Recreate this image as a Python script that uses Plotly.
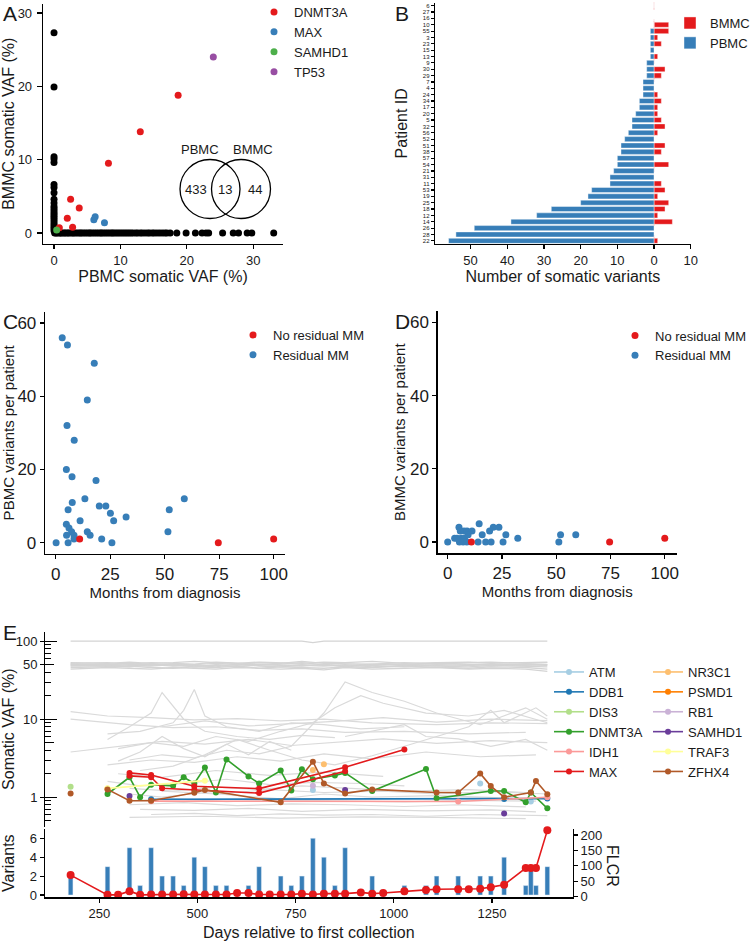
import plotly.graph_objects as go

W, H = 750, 942


def fx(p):
    return p / W


def fy(p):
    return 1 - p / H


FONT = "Liberation Sans, Arial, Helvetica, sans-serif"
TXT = "#1a1a1a"
RED = "#E41A1C"
BLUE = "#377EB8"
GREEN = "#4DAF4A"
PURPLE = "#984EA3"

# ---------------- Panel A: PBMC vs BMMC VAF ----------------
a_pbmc_only_vaf = [0.1, 0.3, 0.5, 0.8, 1.0, 1.2, 1.5, 1.7, 2.0, 2.2, 2.5, 2.8, 3.0, 3.3, 3.6, 3.9,
                   4.1, 4.4, 4.7, 5.0, 5.3, 5.5, 5.8, 6.1, 6.4, 6.7, 7.0, 7.2, 7.5, 7.8, 8.1, 8.4,
                   8.7, 8.9, 9.2, 9.5, 9.8, 10.1, 10.4, 10.7, 11.0, 11.3, 11.6, 11.9, 12.3, 12.6,
                   13.0, 13.3, 13.7, 14.1, 14.4, 14.8, 15.1, 15.5, 15.9, 16.3, 16.7, 17.0, 17.5,
                   18.5, 19.9, 21.3, 22.3, 22.9, 23.3, 25.4, 27.0, 27.8, 29.1, 29.8, 33.1]
a_bmmc_only_vaf = [27.3, 19.9, 10.4, 10.1, 9.6, 6.6, 6.2, 5.5, 4.6, 4.1, 3.6, 3.3, 3.0, 2.7,
                   2.4, 2.1, 1.8, 1.5, 1.2, 0.9, 0.6, 0.3]
a_shared_gene = ["DNMT3A"] * 8 + ["MAX"] * 3 + ["SAMHD1", "TP53"]
a_shared_pbmc = [8.2, 13.0, 18.7, 2.5, 3.8, 2.0, 2.8, 0.8, 6.0, 6.2, 7.6, 0.4, 24.0]
a_shared_bmmc = [9.5, 13.8, 18.8, 4.6, 3.4, 2.0, 0.8, 0.7, 1.8, 2.2, 1.4, 0.4, 24.0]
a_genes = ["DNMT3A", "MAX", "SAMHD1", "TP53"]
a_gene_colors = [RED, BLUE, GREEN, PURPLE]
venn_sets = ["PBMC", "BMMC"]
venn_counts = [433, 13, 44]

# ---------------- Panel B: variants per patient ----------------
b_patient_ids = ["6", "27", "16", "10", "55", "3", "23", "15", "13", "9", "30", "29", "7", "4",
                 "24", "34", "17", "20", "5", "32", "56", "52", "51", "38", "57", "54", "21",
                 "31", "11", "53", "19", "25", "18", "12", "14", "26", "28", "22"]
b_pbmc_counts = [0, 0, 0, 0, 1, 1, 1, 1, 1, 2, 2, 2, 3, 3, 3, 4, 4, 5, 6, 6, 7, 8, 9, 9, 10, 10,
                 11, 12, 12, 17, 18, 20, 28, 32, 39, 49, 54, 56]
b_bmmc_counts = [0, 0, 0, 4, 4, 1, 2, 0, 1, 0, 3, 2, 0, 0, 1, 2, 1, 1, 2, 3, 1, 0, 3, 2, 0, 4,
                 0, 0, 2, 3, 1, 4, 3, 1, 5, 0, 0, 1]
b_tick_vals = [-50, -40, -30, -20, -10, 0, 10]
b_tick_text = ["50", "40", "30", "20", "10", "0", "10"]

# ---------------- Panel C: PBMC variants vs months ----------------
c_months_res = [3.0, 5.4, 17.7, 14.5, 5.2, 8.5, 4.9, 7.5, 18.5, 13.4, 59.0, 7.6, 20.0, 23.0, 5.7,
                52.1, 25.1, 32.3, 11.2, 26.6, 4.9, 6.1, 7.3, 14.5, 51.5, 8.4, 5.0, 15.8, 8.4,
                21.1, 0.2, 5.7, 25.8]
c_pbmc_res = [56, 54, 49, 39, 32, 28, 20, 18, 17, 12, 12, 11, 10, 10, 9, 9, 8, 7, 6, 6, 5, 4, 3,
              3, 3, 2, 2, 2, 1, 1, 0, 0, 0]
c_months_nores = [11.0, 74.6, 100.0]
c_pbmc_nores = [1, 0, 1]

# ---------------- Panel D: BMMC variants vs months ----------------
d_months_res = [0.0, 3.2, 5.2, 5.8, 7.5, 8.9, 11.2, 6.2, 7.7, 9.4, 5.4, 7.1, 8.8, 4.3, 14.5, 15.9,
                19.3, 21.0, 23.6, 26.8, 32.3, 14.0, 17.5, 20.0, 25.5, 52.0, 51.2, 59.0]
d_bmmc_res = [0, 1, 4, 3, 3, 3, 3, 1, 1, 2, 0, 0, 0, 1, 5, 2, 3, 4, 4, 2, 1, 0, 0, 0, 0, 2, 0, 2]
d_months_nores = [10.9, 74.6, 100.0]
d_bmmc_nores = [0, 0, 1]

# ---------------- Panel E: longitudinal VAF ----------------
e_band_days = [177, 271, 327, 382, 438, 492, 547, 601, 657, 712, 766, 822, 876, 945, 1027, 1109,
               1191, 1247, 1336, 1391]
e_band_vafs = [
    [51, 50, 52, 49, 51, 50, 52, 50, 49, 51, 53, 50, 49, 51, 50, 52, 51, 50, 49, 50],
    [48, 49, 47, 50, 48, 49, 47, 51, 48, 47, 49, 48, 50, 47, 49, 48, 47, 49, 48, 47],
    [53, 52, 54, 52, 53, 55, 53, 52, 54, 53, 52, 54, 53, 55, 52, 53, 54, 52, 53, 54],
    [50, 51, 49, 48, 50, 47, 50, 49, 51, 50, 48, 51, 47, 50, 51, 49, 50, 51, 50, 49],
    [46, 47, 48, 46, 45, 47, 46, 48, 45, 47, 46, 45, 47, 46, 48, 46, 45, 47, 46, 44],
    [52, 53, 51, 53, 52, 51, 54, 53, 51, 52, 55, 52, 52, 51, 53, 51, 53, 54, 52, 53],
    [49, 48, 50, 51, 49, 48, 49, 47, 50, 49, 50, 49, 48, 49, 47, 50, 49, 48, 51, 50],
    [44, 46, 45, 44, 46, 45, 44, 46, 45, 44, 45, 43, 46, 44, 45, 46, 44, 45, 44, 41],
]
e_hundred_days = [177, 271, 382, 492, 601, 712, 766, 794, 822, 876, 973, 1109, 1247, 1391]
e_hundred_vafs = [100, 100, 100, 100, 100, 100, 100, 96, 100, 100, 100, 100, 100, 100]
e_mid_lines = [
    ([177, 271, 382, 492, 601, 712, 822, 945, 1109, 1247, 1391],
     [12.5, 11, 10.5, 9.8, 10.2, 9.5, 10, 9, 8.5, 9, 8.8]),
    ([177, 327, 438, 547, 657, 766, 876, 1027, 1191, 1336],
     [10, 8.5, 7.8, 8, 7.2, 7.5, 6.8, 7, 6.5, 6.8]),
    ([177, 298, 410, 519, 630, 739, 850, 973, 1109, 1247, 1391],
     [3.8, 4.5, 5.2, 4.8, 5.5, 4.6, 5, 5.6, 4.9, 5.3, 5.0]),
    ([271, 327, 382, 410, 465, 519, 601, 684, 766, 850],
     [5.5, 8, 12, 22, 10, 7, 6, 5.5, 6.2, 5.8]),
    ([271, 354, 438, 465, 492, 519, 574, 657, 739, 822, 916, 1027],
     [6.5, 7, 9, 13, 24, 11, 8, 7, 9, 8.5, 7.5, 8]),
    ([298, 382, 465, 547, 630, 712, 794, 850, 916, 973, 1082, 1191, 1281, 1391],
     [4.2, 5, 4.5, 6, 5.2, 7, 9, 14, 20, 16, 12, 11, 13, 9]),
    ([327, 410, 492, 574, 657, 739, 822, 876, 945, 1027, 1109, 1220, 1336, 1391],
     [3, 3.5, 3.2, 4, 3.6, 4.5, 12, 30, 22, 17, 12, 8.5, 14, 10]),
    ([271, 382, 492, 601, 712, 822, 945, 1082, 1220, 1362],
     [2.6, 3, 2.8, 3.3, 2.9, 3.6, 3.1, 3.8, 3.3, 3.5]),
    ([354, 438, 519, 601, 684, 766, 850, 945, 1027, 1109, 1191, 1247, 1281, 1362, 1391],
     [2.2, 2.5, 3.5, 5.5, 4, 3, 2.6, 3.4, 4.5, 6, 8, 13, 9, 14, 11]),
    ([410, 519, 630, 739, 850, 973, 1109, 1247, 1391],
     [8, 9.5, 8.2, 8.8, 9.4, 10.5, 9.2, 10, 9.6]),
    ([298, 354, 410, 465, 519, 574, 630, 684, 739],
     [2.9, 3.8, 6, 4.2, 3.3, 4.8, 3.5, 5.2, 4]),
    ([876, 945, 1027, 1082, 1164, 1247, 1336, 1391],
     [6, 7, 8.5, 6, 5.6, 4.5, 5.5, 4]),
]
e_low_lines = [
    ([327, 438, 547, 657, 766, 876, 1027, 1191, 1336], [1.3, 1.2, 1.35, 1.25, 1.4, 1.3, 1.2, 1.25, 1.15]),
    ([327, 465, 601, 739, 876, 1027, 1164, 1336], [0.8, 0.85, 0.78, 0.82, 0.8, 0.76, 0.8, 0.75]),
    ([354, 492, 630, 766, 916, 1082, 1247, 1362], [0.7, 0.68, 0.72, 0.66, 0.7, 0.67, 0.69, 0.65]),
    ([327, 410, 519, 601, 712, 822, 945, 1109, 1281], [1.1, 1.0, 1.15, 1.05, 0.95, 1.1, 1.0, 1.05, 0.98]),
    ([382, 492, 601, 712, 822, 945, 1082, 1220, 1391], [0.6, 0.62, 0.58, 0.61, 0.59, 0.6, 0.57, 0.6, 0.58]),
    ([327, 438, 574, 712, 850, 1027, 1191, 1362], [0.9, 0.95, 0.88, 0.92, 0.9, 0.87, 0.91, 0.89]),
    ([271, 354, 465, 574, 684, 794, 916, 1027], [1.6, 1.4, 1.5, 1.7, 1.45, 1.55, 1.5, 1.4]),
    ([410, 547, 684, 822, 973, 1109, 1247, 1391], [1.2, 1.1, 1.25, 1.15, 1.2, 1.1, 1.18, 1.1]),
    ([298, 410, 547, 684, 822, 973], [2.0, 1.8, 2.2, 1.9, 2.1, 1.85]),
    ([327, 519, 712, 916, 1109, 1336], [0.55, 0.57, 0.54, 0.56, 0.55, 0.53]),
]

# highlighted genes: list of segments (days, VAF %)
e_gene_names = ["ATM", "DDB1", "DIS3", "DNMT3A", "IDH1", "MAX",
                "NR3C1", "PSMD1", "RB1", "SAMHD1", "TRAF3", "ZFHX4"]
e_gene_colors = ["#A6CEE3", "#1F78B4", "#B2DF8A", "#33A02C", "#FB9A99", "#E31A1C",
                 "#FDBF6F", "#FF7F00", "#CAB2D6", "#6A3D9A", "#FFFF99", "#B15928"]
e_gene_segments = [
    [([794], [1.24]), ([1220], [1.5]), ([1349], [0.88])],
    [([382, 1281, 1391], [0.94, 0.95, 0.96])],
    [([177], [1.36])],
    [([271, 327, 354, 382, 438, 465, 492, 519, 547, 574, 630, 657, 712, 739, 766, 794, 850, 876,
       945, 1082, 1109, 1247, 1281, 1336, 1349, 1391],
      [1.1, 1.8, 1.0, 1.45, 1.4, 1.8, 1.5, 2.4, 1.15, 3.05, 1.85, 1.5, 2.2, 1.22, 2.28, 1.7, 1.9,
       2.05, 1.2, 2.3, 0.97, 1.2, 1.2, 0.86, 1.15, 0.72])],
    [([382, 1164, 1391], [0.89, 0.88, 1.0])],
    [([327, 382, 492, 657, 876, 1027], [2.05, 1.93, 1.38, 1.29, 2.42, 4.1]),
     ([327, 382, 410, 492, 657, 876], [1.88, 1.8, 1.3, 1.25, 1.13, 2.15])],
    [([794], [2.23]), ([822], [2.64])],
    [([271], [1.28])],
    [([794], [1.4])],
    [([327], [1.04]), ([876], [1.24]), ([1281], [0.62])],
    [([271, 519], [1.3, 1.63])],
    [([177], [1.12]),
     ([271, 327, 382, 492, 519, 712, 794, 822, 876, 945, 1109, 1164, 1220, 1247, 1281, 1349, 1362, 1391],
      [1.26, 0.9, 0.9, 1.14, 1.24, 0.86, 2.85, 1.5, 1.12, 1.26, 1.15, 1.15, 2.02, 1.39, 1.0, 1.15, 1.61, 1.09])],
]

e_bar_days = [177, 271, 327, 354, 382, 410, 438, 465, 492, 519, 547, 574, 630, 657, 712, 739, 766,
              794, 822, 850, 876, 945, 1027, 1082, 1109, 1164, 1220, 1247, 1281, 1336, 1349, 1362, 1391]
e_bar_counts = [2, 3, 5, 1, 5, 2, 2, 1, 4, 3, 1, 1, 1, 3, 2, 1, 2, 6, 4, 1, 5, 2, 1, 1, 2, 2, 2, 2,
                4, 1, 3, 1, 3]
e_flcr_days = [177, 271, 298, 327, 354, 382, 410, 438, 465, 492, 519, 547, 574, 601, 630, 657, 684,
               712, 739, 766, 794, 822, 850, 876, 916, 945, 973, 1027, 1082, 1109, 1164, 1191, 1220,
               1247, 1281, 1336, 1349, 1362, 1391]
e_flcr = [70, 6, 6, 18, 6, 7, 7, 7, 8, 7, 7, 7, 7, 12, 12, 7, 7, 7, 7, 10, 7, 10, 10, 10, 14, 10,
          12, 18, 22, 24, 24, 24, 26, 31, 39, 93, 93, 93, 215]

fig = go.Figure()

# ---- Panel A traces
fig.add_trace(go.Scatter(
    x=a_pbmc_only_vaf + [0.0] * len(a_bmmc_only_vaf),
    y=[0.0] * len(a_pbmc_only_vaf) + a_bmmc_only_vaf,
    mode="markers", marker=dict(color="black", size=7), showlegend=False,
    xaxis="x", yaxis="y", cliponaxis=False, hoverinfo="skip"))
for g, col in zip(a_genes, a_gene_colors):
    xs = [v for v, gg in zip(a_shared_pbmc, a_shared_gene) if gg == g]
    ys = [v for v, gg in zip(a_shared_bmmc, a_shared_gene) if gg == g]
    fig.add_trace(go.Scatter(x=xs, y=ys, mode="markers", name=g,
                             marker=dict(color=col, size=7), xaxis="x", yaxis="y",
                             legend="legend", cliponaxis=False))

# ---- Panel B traces
fig.add_trace(go.Bar(y=b_patient_ids, x=b_bmmc_counts, orientation="h", name="BMMC",
                     marker=dict(color=RED, line=dict(color="rgba(255,255,255,0.7)", width=0.6)),
                     width=0.8, xaxis="x2", yaxis="y2", legend="legend2"))
fig.add_trace(go.Bar(y=b_patient_ids, x=[-v for v in b_pbmc_counts], orientation="h", name="PBMC",
                     marker=dict(color=BLUE, line=dict(color="rgba(255,255,255,0.7)", width=0.6)),
                     width=0.8, xaxis="x2", yaxis="y2", legend="legend2"))

# ---- Panel C traces
fig.add_trace(go.Scatter(x=c_months_res, y=c_pbmc_res, mode="markers", name="Residual MM",
                         marker=dict(color=BLUE, size=7), xaxis="x3", yaxis="y3",
                         legend="legend3", legendrank=2))
fig.add_trace(go.Scatter(x=c_months_nores, y=c_pbmc_nores, mode="markers", name="No residual MM",
                         marker=dict(color=RED, size=7), xaxis="x3", yaxis="y3",
                         legend="legend3", legendrank=1, cliponaxis=False))

# ---- Panel D traces
fig.add_trace(go.Scatter(x=d_months_res, y=d_bmmc_res, mode="markers", name="Residual MM",
                         marker=dict(color=BLUE, size=7), xaxis="x4", yaxis="y4",
                         legend="legend4", legendrank=2))
fig.add_trace(go.Scatter(x=d_months_nores, y=d_bmmc_nores, mode="markers", name="No residual MM",
                         marker=dict(color=RED, size=7), xaxis="x4", yaxis="y4",
                         legend="legend4", legendrank=1, cliponaxis=False))

# ---- Panel E top: grey background variants
GREY = "#D4D4D4"
fig.add_trace(go.Scatter(x=e_hundred_days, y=e_hundred_vafs, mode="lines",
                         line=dict(color=GREY, width=1.3), showlegend=False,
                         xaxis="x5", yaxis="y5", hoverinfo="skip"))
for vals in e_band_vafs:
    fig.add_trace(go.Scatter(x=e_band_days, y=vals, mode="lines",
                             line=dict(color=GREY, width=1.3), showlegend=False,
                             xaxis="x5", yaxis="y5", hoverinfo="skip"))
for days, vals in e_mid_lines + e_low_lines:
    fig.add_trace(go.Scatter(x=days, y=vals, mode="lines",
                             line=dict(color="#DADADA", width=1.2), showlegend=False,
                             xaxis="x5", yaxis="y5", hoverinfo="skip"))

# ---- Panel E top: highlighted genes
for i, (gname, gcol, segs) in enumerate(zip(e_gene_names, e_gene_colors, e_gene_segments)):
    leg = "legend5" if i < 6 else "legend6"
    for j, (days, vals) in enumerate(segs):
        fig.add_trace(go.Scatter(x=days, y=vals, mode="lines+markers", name=gname,
                                 legendgroup=gname, showlegend=(j == 0), legend=leg,
                                 line=dict(color=gcol, width=1.6),
                                 marker=dict(color=gcol, size=6),
                                 xaxis="x5", yaxis="y5", cliponaxis=False))

# empty traces so that the extra tick-mark axes of the log panel get drawn
fig.add_trace(go.Scatter(x=[], y=[], xaxis="x5", yaxis="y8", showlegend=False))
fig.add_trace(go.Scatter(x=[], y=[], xaxis="x5", yaxis="y9", showlegend=False))

# ---- Panel E bottom: variants per sample and FLCR
fig.add_trace(go.Bar(x=e_bar_days, y=e_bar_counts, width=12, marker=dict(color=BLUE),
                     showlegend=False, xaxis="x6", yaxis="y6"))
fig.add_trace(go.Scatter(x=e_flcr_days, y=e_flcr, mode="lines+markers",
                         line=dict(color=RED, width=1.6), marker=dict(color=RED, size=8),
                         showlegend=False, xaxis="x6", yaxis="y7", cliponaxis=False))


def axis(domain, rng, title="", tsize=16, fsize=13, standoff=4, **kw):
    d = dict(domain=domain, range=rng, showline=True, linecolor="black", linewidth=1.3,
             ticks="outside", ticklen=4, tickwidth=1.2, tickcolor="black", showgrid=False,
             zeroline=False, tickfont=dict(family=FONT, size=fsize, color=TXT),
             title=dict(text=title, font=dict(family=FONT, size=tsize, color=TXT),
                        standoff=standoff),
             fixedrange=True)
    d.update(kw)
    return d


e_xdom = [fx(45), fx(572.7)]
e_xrng = [111.8, 1455.6]
e_top_ydom = [fy(826.7), fy(631.7)]
e_top_yrng = [-0.378, 2.122]
minor_vals = [0.5, 0.6, 0.7, 0.8, 0.9, 2, 3, 4, 6, 7, 8, 9, 20, 30, 40, 60, 70, 80, 90]

layout = dict(
    width=W, height=H, margin=dict(l=0, r=0, t=0, b=0, autoexpand=False),
    paper_bgcolor="white", plot_bgcolor="white",
    font=dict(family=FONT, color=TXT), barmode="overlay", hovermode=False,
    # A
    xaxis=axis([fx(43), fx(283)], [-1.66, 34.5], "PBMC somatic VAF (%)", anchor="y",
               tickvals=[0, 10, 20, 30], standoff=0),
    yaxis=axis([fy(244), fy(3.5)], [-1.5, 31.3], "BMMC somatic VAF (%)", anchor="x",
               tickvals=[0, 10, 20, 30], standoff=6, ticklen=5, ticklabelstandoff=2),
    # B
    xaxis2=axis([fx(435), fx(690.7)], [-59.7, 10.0], "Number of somatic variants", anchor="y2",
                tickmode="array", tickvals=b_tick_vals, ticktext=b_tick_text, standoff=0),
    yaxis2=axis([fy(244), fy(2.5)], [37.5, -0.5], "Patient ID", anchor="x2", type="category",
                categoryorder="array", categoryarray=b_patient_ids, tickmode="array",
                tickvals=b_patient_ids, ticktext=b_patient_ids, fsize=6, ticklen=3, standoff=11),
    # C
    xaxis3=axis([fx(45), fx(285)], [-4.9, 105.2], "Months from diagnosis", tsize=15, fsize=17,
                anchor="y3", tickvals=[0, 25, 50, 75, 100], standoff=0),
    yaxis3=axis([fy(554), fy(311.7)], [-3.1, 63.1], "PBMC variants per patient", tsize=15,
                fsize=17, anchor="x3", tickvals=[0, 20, 40, 60], standoff=7),
    # D
    xaxis4=axis([fx(437.7), fx(676.7)], [-4.6, 105.5], "Months from diagnosis", tsize=15,
                fsize=17, anchor="y4", tickvals=[0, 25, 50, 75, 100], standoff=0),
    yaxis4=axis([fy(553.3), fy(311)], [-3.1, 63.1], "BMMC variants per patient", tsize=15,
                fsize=17, anchor="x4", tickvals=[0, 20, 40, 60], standoff=0),
    # E top
    xaxis5=dict(domain=e_xdom, range=e_xrng, anchor="y5", showline=False, showticklabels=False,
                ticks="", showgrid=False, zeroline=False, fixedrange=True),
    yaxis5=axis(e_top_ydom, e_top_yrng, "", anchor="x5", type="log",
                tickvals=[1, 10, 100], ticks="inside", ticklen=12, showticklabels=False,
                minor=dict(tickmode="array", tickvals=minor_vals, ticks="inside", ticklen=6,
                           tickcolor="black", tickwidth=1, showgrid=False)),
    yaxis8=dict(domain=e_top_ydom, range=e_top_yrng, type="log", overlaying="y5", anchor="x5",
                side="left", showline=False, showgrid=False, zeroline=False, ticks="outside",
                ticklen=4, tickwidth=1.2, tickcolor="black", tickvals=[1, 10, 50, 100],
                ticktext=["1", "10", "50", "100"], tickfont=dict(family=FONT, size=13, color=TXT),
                title=dict(text="Somatic VAF (%)", font=dict(family=FONT, size=16, color=TXT),
                           standoff=3),
                fixedrange=True),
    yaxis9=dict(domain=e_top_ydom, range=e_top_yrng, type="log", overlaying="y5", anchor="x5",
                side="left", showline=False, showgrid=False, zeroline=False, ticks="inside",
                ticklen=9, tickwidth=1.1, tickcolor="black", tickvals=[5, 50],
                showticklabels=False, fixedrange=True),
    # E bottom
    xaxis6=axis(e_xdom, e_xrng, "Days relative to first collection", anchor="y6",
                tickvals=[250, 500, 750, 1000, 1250], standoff=6),
    yaxis6=axis([fy(897.3), fy(829)], [-0.24, 6.98], "Variants", anchor="x6",
                tickvals=[0, 2, 4, 6], standoff=14),
    yaxis7=axis([fy(897.3), fy(829)], [-1.9, 219.4], "", anchor="x6", overlaying="y6",
                side="right", tickvals=[0, 50, 100, 150, 200]),
)

leg_common = dict(bgcolor="rgba(0,0,0,0)", borderwidth=0, font=dict(family=FONT, size=13, color=TXT),
                  xanchor="left", yanchor="top", tracegroupgap=0)
layout["legend"] = dict(x=fx(254), y=fy(-3), **leg_common)
layout["legend2"] = dict(x=fx(670), y=fy(8), **leg_common)
layout["legend3"] = dict(x=fx(233), y=fy(320), **leg_common)
layout["legend4"] = dict(x=fx(615), y=fy(320.5), **leg_common)
layout["legend5"] = dict(x=fx(549), y=fy(657), **leg_common)
layout["legend6"] = dict(x=fx(648), y=fy(657), **leg_common)

shapes = [
    dict(type="circle", xref="paper", yref="paper", x0=fx(180), x1=fx(240),
         y0=fy(218.5), y1=fy(159.5), line=dict(color="black", width=1.3)),
    dict(type="circle", xref="paper", yref="paper", x0=fx(211.5), x1=fx(270.5),
         y0=fy(218.5), y1=fy(159.5), line=dict(color="black", width=1.3)),
    dict(type="line", xref="x2", yref="y2 domain", x0=0, x1=0, y0=0, y1=1,
         line=dict(color="rgba(228,26,28,0.35)", width=0.8, dash="dash"), layer="below"),
]

ann = []


def label(txt, x, y, size=13, **kw):
    d = dict(text=txt, x=fx(x), y=fy(y), xref="paper", yref="paper", showarrow=False,
             font=dict(family=FONT, size=size, color=TXT), xanchor="center", yanchor="middle")
    d.update(kw)
    ann.append(d)


label(venn_sets[0], 200, 149.5)
label(venn_sets[1], 252.5, 149.5)
label(str(venn_counts[0]), 195.5, 189.5)
label(str(venn_counts[1]), 225, 189.5)
label(str(venn_counts[2]), 254.5, 189.5)
label("FLCR", 613, 866, size=16, textangle=90)
for letter, x, y in [("A", 1, 0), ("B", 393, 0), ("C", 1, 308), ("D", 393, 308), ("E", 1, 619)]:
    label(letter, x, y, size=21, xanchor="left", yanchor="top")

layout["shapes"] = shapes
layout["annotations"] = ann
fig.update_layout(**layout)

# remove the browser's default 8px page margin so the 750x942 figure fills the window exactly
fig.write_html("out.html",
               config={"displayModeBar": False, "staticPlot": True},
               post_script="document.body.style.margin='0';document.body.style.padding='0';"
                           "document.body.style.overflow='hidden';")
